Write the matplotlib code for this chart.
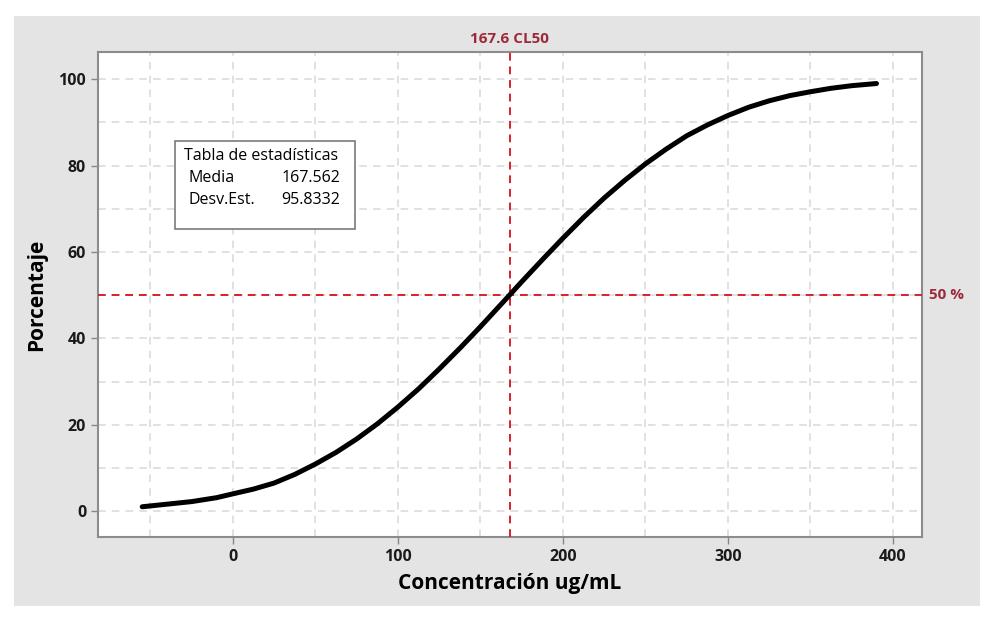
import matplotlib
matplotlib.use("Agg")
import matplotlib.pyplot as plt
from matplotlib.patches import Rectangle
from matplotlib.ticker import MultipleLocator

# values
conc = [-55, -40, -25, -10, 0, 12.5, 25, 37.5, 50, 62.5, 75, 87.5, 100, 112.5, 125,
        137.5, 150, 167.6, 175, 187.5, 200, 212.5, 225, 237.5, 250, 262.5, 275,
        287.5, 300, 312.5, 325, 337.5, 350, 362.5, 375, 390]
pct = [1.0, 1.6, 2.2, 3.1, 4.0, 5.1, 6.5, 8.5, 10.9, 13.6, 16.7, 20.2, 24.1, 28.3, 32.9,
       37.7, 42.7, 50.0, 53.1, 58.2, 63.2, 68.0, 72.5, 76.6, 80.4, 83.8, 86.9,
       89.4, 91.6, 93.5, 95.0, 96.2, 97.1, 97.9, 98.5, 99.0]

cl50 = 167.6
media = "167.562"
desv = "95.8332"

plt.rcParams['font.family'] = ['Open Sans', 'DejaVu Sans']

fig = plt.figure(figsize=(9.96, 6.18), dpi=100)
fig.patch.set_facecolor("white")
fig.add_artist(Rectangle((14 / 996, 12 / 618), 966 / 996, 590 / 618,
                         transform=fig.transFigure, facecolor="#e4e4e4",
                         edgecolor="none", zorder=-5))

ax = fig.add_axes([98 / 996, 81 / 618, 824 / 996, 485 / 618])
ax.set_zorder(1)
ax.set_facecolor("white")
ax.set_xlim(-81.8, 417.6)
ax.set_ylim(-6.0, 106.3)

ax.xaxis.set_major_locator(MultipleLocator(100))
ax.xaxis.set_minor_locator(MultipleLocator(50))
ax.yaxis.set_major_locator(MultipleLocator(20))
ax.yaxis.set_minor_locator(MultipleLocator(10))
ax.grid(True, which="both", color="#d9d9d9", linestyle=(0, (5, 4)), linewidth=1.1)
ax.tick_params(which="minor", length=0)
ax.tick_params(which="major", length=5, color="#888888", width=1,
               labelsize=11.5, labelcolor="#1a1a1a")
for lab in ax.get_xticklabels() + ax.get_yticklabels():
    lab.set_fontweight("bold")
for s in ax.spines.values():
    s.set_color("#8c8c8c")
    s.set_linewidth(1.5)

ax.plot(conc, pct, color="black", linewidth=3.6, solid_capstyle="round",
        solid_joinstyle="round", zorder=5)

red = "#d8202a"
ax.axvline(cl50, color=red, linestyle=(0, (4, 3)), linewidth=1.4, zorder=4)
ax.axhline(50, color=red, linestyle=(0, (4, 3)), linewidth=1.4, zorder=4)
ax.text(cl50, 1.012, f"{cl50} CL50", transform=ax.get_xaxis_transform(),
        ha="center", va="bottom", color="#9c2a3a", fontsize=11, fontweight="bold")
ax.text(1.008, 50, "50 %", transform=ax.get_yaxis_transform(),
        ha="left", va="center", color="#9c2a3a", fontsize=11, fontweight="bold")

ax.set_xlabel("Concentración ug/mL", fontsize=15, fontweight="bold", labelpad=6)
ax.set_ylabel("Porcentaje", fontsize=15, fontweight="bold", labelpad=8)

# stats box
ax.add_patch(Rectangle((0.0934, 0.635), 0.2185, 0.1815, transform=ax.transAxes,
                       facecolor="white", edgecolor="#7a7a7a", linewidth=1.2, zorder=6))
box_txt = dict(transform=ax.transAxes, va="center", fontsize=11.5, zorder=7, color="black")
ax.text(0.1044, 0.7856, "Tabla de estadísticas", ha="left", **box_txt)
ax.text(0.110, 0.740, "Media", ha="left", **box_txt)
ax.text(0.2937, 0.740, media, ha="right", **box_txt)
ax.text(0.110, 0.695, "Desv.Est.", ha="left", **box_txt)
ax.text(0.2937, 0.695, desv, ha="right", **box_txt)

fig.savefig("out.png", dpi=100)
